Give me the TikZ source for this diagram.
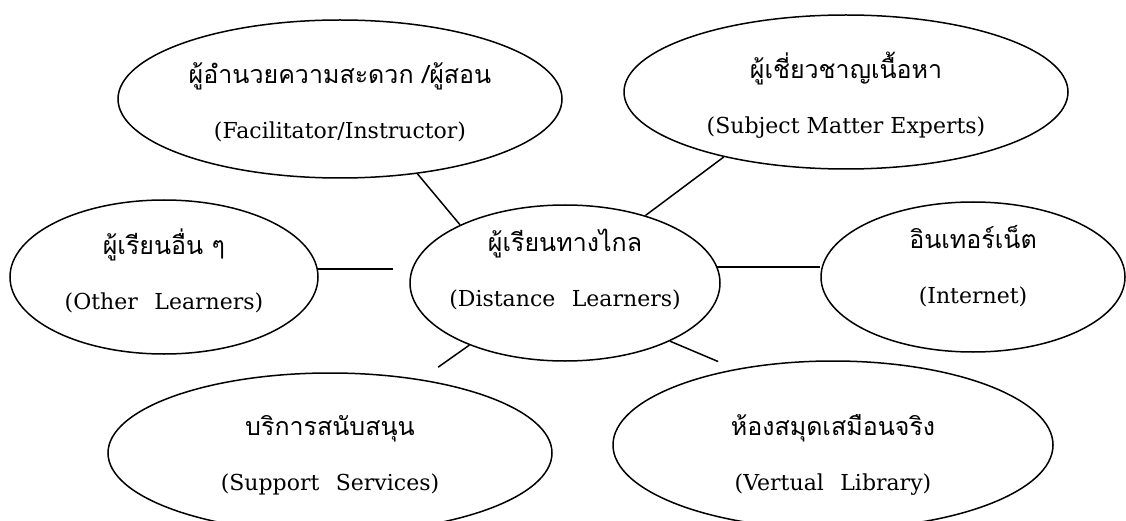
\documentclass[tikz,border=0pt]{standalone}
\usepackage{fontspec}
\setmainfont{DejaVu Serif}
\newfontfamily\thaifont[Script=Thai]{Loma}
\usetikzlibrary{shapes.geometric}
\newcommand{\duo}[3][0pt]{\raisebox{#1}[0pt][0pt]{\vbox{\baselineskip=55pt
  \hbox to 0pt{\hss\thaifont\fontsize{25}{30}\selectfont #2\hss}
  \hbox to 0pt{\hss #3\hss}}}}
\newcommand{\wsp}{\hspace{.75em}}

\begin{document}
\begin{tikzpicture}[x=1pt, y=1pt,
  bubble/.style={ellipse, draw, line width=1.5pt, inner sep=0pt,
    font=\fontsize{22}{26}\selectfont},
  link/.style={line width=1.5pt}]
\useasboundingbox (0,0) rectangle (1126,520);
\node [bubble, minimum width=444pt, minimum height=158pt] (fac) at (340,421)
  {\duo[-40pt]{ผู้อำนวยความสะดวก /ผู้สอน}{(Facilitator/Instructor)}};
\node [bubble, minimum width=444pt, minimum height=154pt] (subj) at (846,428)
  {\duo[-42pt]{ผู้เชี่ยวชาญเนื้อหา}{(Subject Matter Experts)}};
\node [bubble, minimum width=308pt, minimum height=154pt] (other) at (164,243)
  {\duo[-32pt]{ผู้เรียนอื่น ๆ}{(Other\wsp Learners)}};
\node [bubble, minimum width=310pt, minimum height=156pt] (dist) at (565,237)
  {\duo[-23pt]{ผู้เรียนทางไกล}{(Distance\wsp Learners)}};
\node [bubble, minimum width=304pt, minimum height=150pt] (inet) at (973,243)
  {\duo[-26pt]{อินเทอร์เน็ต}{(Internet)}};
\node [bubble, minimum width=444pt, minimum height=160pt] (supp) at (330,67)
  {\duo[-37pt]{บริการสนับสนุน}{(Support\wsp Services)}};
\node [bubble, minimum width=440pt, minimum height=168pt] (vlib) at (833,75)
  {\duo[-45pt]{ห้องสมุดเสมือนจริง}{(Vertual\wsp Library)}};

\draw [link] (fac.-44) -- (dist.151);
\draw [link] (subj.-152) -- (dist.40);
\draw [link, shorten >=16pt] (other.3) -- (other.3 -| dist.west);
\draw [link] (dist.6) -- (dist.6 -| inet.west);
\draw [link, shorten >=21pt] (dist.-147) -- (supp.39);
\draw [link, shorten >=19pt] (dist.-29) -- (vlib.142);
\end{tikzpicture}
\end{document}
